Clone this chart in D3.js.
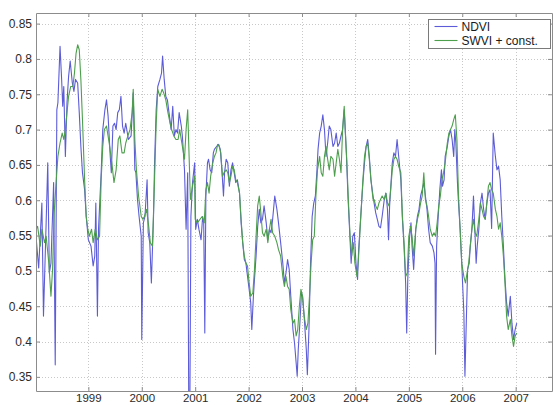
<!DOCTYPE html>
<html><head><meta charset="utf-8">
<script src="https://cdn.jsdelivr.net/npm/d3@7"></script>
<style>html,body{margin:0;padding:0;background:#fff;}svg{display:block;}</style>
</head><body>
<svg id="chart" width="553" height="405"></svg>
<script>
// ---- data (decimal year, value) ----
const yearTicks = [1999, 2000, 2001, 2002, 2003, 2004, 2005, 2006, 2007];
const valueTicks = [0.35, 0.4, 0.45, 0.5, 0.55, 0.6, 0.65, 0.7, 0.75, 0.8, 0.85];
const seriesNames = ["NDVI", "SWVI + const."];

const ndviT = [1998.02,1998.07,1998.13,1998.16,1998.21,1998.24,1998.27,1998.30,1998.35,1998.38,1998.41,1998.43,1998.47,1998.50,1998.52,1998.54,1998.57,1998.60,1998.63,1998.66,1998.70,1998.73,1998.76,1998.80,1998.83,1998.86,1998.89,1998.93,1998.96,1999.00,1999.05,1999.09,1999.12,1999.14,1999.17,1999.19,1999.24,1999.27,1999.31,1999.34,1999.37,1999.41,1999.43,1999.46,1999.49,1999.52,1999.55,1999.58,1999.61,1999.64,1999.67,1999.70,1999.75,1999.80,1999.84,1999.87,1999.89,1999.92,1999.95,1999.99,2000.00,2000.03,2000.06,2000.10,2000.12,2000.15,2000.18,2000.22,2000.24,2000.27,2000.30,2000.34,2000.37,2000.39,2000.42,2000.45,2000.48,2000.51,2000.55,2000.58,2000.61,2000.64,2000.67,2000.70,2000.74,2000.76,2000.80,2000.83,2000.86,2000.88,2000.90,2000.92,2000.95,2000.99,2001.01,2001.04,2001.07,
2001.11,2001.14,2001.16,2001.18,2001.20,2001.23,2001.25,2001.28,2001.31,2001.34,2001.36,2001.40,2001.44,2001.47,2001.50,2001.53,2001.55,2001.58,2001.61,2001.64,2001.67,2001.70,2001.73,2001.76,2001.79,2001.83,2001.86,2001.89,2001.92,2001.95,2001.98,2002.01,2002.04,2002.06,2002.09,2002.11,2002.14,2002.17,2002.20,2002.23,2002.26,2002.29,2002.33,2002.36,2002.39,2002.42,2002.45,2002.49,2002.53,2002.56,2002.60,2002.64,2002.67,2002.70,2002.73,2002.76,2002.79,2002.83,2002.86,2002.89,2002.91,2002.93,2002.96,2002.99,2003.01,2003.04,2003.08,2003.10,2003.13,2003.16,2003.19,2003.22,2003.25,2003.28,2003.30,2003.33,2003.36,2003.39,2003.42,2003.45,2003.48,2003.51,2003.54,2003.58,2003.61,2003.64,2003.67,2003.70,2003.73,2003.76,2003.79,2003.83,2003.86,2003.89,2003.92,2003.95,2003.98,2004.01,2004.04,2004.06,2004.10,2004.14,2004.17,2004.20,2004.23,2004.26,2004.29,2004.33,
2004.35,2004.38,2004.41,2004.44,2004.47,2004.50,2004.54,2004.57,2004.60,2004.62,2004.64,2004.67,2004.69,2004.72,2004.75,2004.78,2004.81,2004.85,2004.88,2004.91,2004.94,2004.96,2004.98,2005.01,2005.04,2005.06,2005.09,2005.13,2005.16,2005.19,2005.22,2005.25,2005.28,2005.31,2005.34,2005.37,2005.40,2005.44,2005.47,2005.49,2005.50,2005.52,2005.55,2005.58,2005.61,2005.63,2005.66,2005.68,2005.72,2005.75,2005.78,2005.81,2005.84,2005.86,2005.88,2005.91,2005.93,2005.96,2005.99,2006.03,2006.05,2006.08,2006.10,2006.13,2006.15,2006.18,2006.21,2006.23,2006.26,2006.28,2006.31,2006.34,2006.37,2006.40,2006.43,2006.46,2006.49,2006.52,2006.55,2006.58,2006.62,2006.65,2006.68,2006.71,2006.74,2006.77,2006.80,2006.83,2006.86,2006.90,2006.93,2006.96,2006.99,2007.02];
const ndviV = [0.549,0.504,0.596,0.436,0.568,0.653,0.497,0.511,0.625,0.367,0.728,0.738,0.818,0.771,0.733,0.761,0.662,0.738,0.775,0.797,0.766,0.754,0.771,0.766,0.724,0.676,0.639,0.615,0.577,0.544,0.535,0.507,0.521,0.596,0.436,0.559,0.639,0.700,0.728,0.742,0.719,0.662,0.639,0.705,0.709,0.700,0.724,0.728,0.747,0.705,0.695,0.709,0.686,0.691,0.752,0.643,0.639,0.601,0.577,0.549,0.403,0.568,0.577,0.629,0.554,0.540,0.483,0.577,0.653,0.728,0.761,0.771,0.780,0.804,0.771,0.747,0.742,0.724,0.700,0.733,0.691,0.700,0.695,0.724,0.705,0.691,0.643,0.559,0.639,0.300,0.300,0.577,0.625,0.653,0.559,0.573,0.559,
0.544,0.577,0.568,0.412,0.606,0.653,0.658,0.643,0.639,0.667,0.672,0.676,0.679,0.672,0.643,0.606,0.639,0.658,0.653,0.620,0.643,0.653,0.639,0.625,0.629,0.610,0.568,0.540,0.516,0.511,0.492,0.474,0.455,0.417,0.464,0.488,0.521,0.563,0.587,0.568,0.573,0.592,0.568,0.544,0.559,0.554,0.573,0.606,0.587,0.568,0.540,0.511,0.483,0.497,0.516,0.502,0.464,0.417,0.398,0.370,0.351,0.389,0.426,0.469,0.464,0.436,0.389,0.353,0.417,0.511,0.577,0.596,0.606,0.643,0.672,0.695,0.705,0.721,0.700,0.662,0.681,0.705,0.700,0.676,0.681,0.695,0.676,0.681,0.691,0.700,0.728,0.667,0.606,0.559,0.511,0.549,0.554,0.511,0.488,0.530,0.577,0.625,0.653,0.676,0.686,0.662,0.629,0.606,
0.596,0.582,0.573,0.563,0.561,0.577,0.601,0.610,0.587,0.544,0.592,0.629,0.653,0.667,0.662,0.686,0.662,0.629,0.573,0.535,0.483,0.412,0.488,0.544,0.568,0.535,0.502,0.559,0.577,0.587,0.606,0.615,0.625,0.606,0.587,0.559,0.540,0.535,0.526,0.511,0.382,0.535,0.577,0.615,0.643,0.620,0.629,0.662,0.676,0.691,0.700,0.686,0.662,0.700,0.681,0.625,0.596,0.559,0.511,0.441,0.351,0.441,0.502,0.511,0.535,0.559,0.606,0.568,0.511,0.535,0.559,0.596,0.610,0.587,0.573,0.596,0.610,0.615,0.560,0.695,0.662,0.643,0.648,0.629,0.577,0.535,0.488,0.455,0.436,0.464,0.426,0.403,0.417,0.426];

const swviT = [1998.02,1998.05,1998.10,1998.13,1998.18,1998.21,1998.26,1998.30,1998.33,1998.36,1998.40,1998.43,1998.47,1998.51,1998.54,1998.57,1998.60,1998.63,1998.67,1998.71,1998.74,1998.77,1998.80,1998.83,1998.86,1998.89,1998.93,1998.96,1998.99,1999.02,1999.06,1999.09,1999.13,1999.17,1999.21,1999.24,1999.27,1999.30,1999.34,1999.39,1999.44,1999.48,1999.52,1999.56,1999.59,1999.63,1999.67,1999.70,1999.74,1999.78,1999.82,1999.84,1999.87,1999.90,1999.94,1999.99,2000.02,2000.05,2000.09,2000.13,2000.16,2000.20,2000.23,2000.27,2000.30,2000.34,2000.38,2000.41,2000.45,2000.49,2000.53,2000.56,2000.60,2000.64,2000.68,2000.71,2000.75,2000.80,2000.83,2000.86,2000.89,2000.91,2000.95,2000.99,2001.00,2001.04,
2001.13,2001.17,2001.20,2001.23,2001.26,2001.29,2001.33,2001.36,2001.39,2001.42,2001.45,2001.48,2001.51,2001.54,2001.58,2001.61,2001.64,2001.67,2001.70,2001.73,2001.76,2001.79,2001.83,2001.86,2001.89,2001.92,2001.95,2001.98,2002.01,2002.04,2002.08,2002.11,2002.14,2002.17,2002.20,2002.23,2002.26,2002.29,2002.33,2002.36,2002.39,2002.42,2002.45,2002.49,2002.53,2002.56,2002.60,2002.64,2002.67,2002.70,2002.73,2002.76,2002.79,2002.83,2002.86,2002.89,2002.92,2002.95,2002.98,2003.01,2003.04,2003.08,2003.11,2003.14,2003.17,2003.20,2003.23,2003.26,2003.29,2003.33,2003.36,2003.39,2003.42,2003.45,2003.48,2003.51,2003.54,2003.58,2003.61,2003.64,2003.67,2003.70,2003.73,2003.76,2003.79,2003.81,2003.84,2003.87,2003.90,2003.93,2003.96,2003.99,2004.03,2004.06,2004.10,2004.14,2004.17,2004.20,2004.23,2004.26,2004.29,2004.33,
2004.35,2004.38,2004.41,2004.44,2004.47,2004.50,2004.54,2004.57,2004.60,2004.63,2004.66,2004.69,2004.72,2004.75,2004.78,2004.81,2004.85,2004.88,2004.91,2004.94,2004.97,2005.00,2005.03,2005.06,2005.09,2005.13,2005.16,2005.19,2005.22,2005.25,2005.28,2005.31,2005.34,2005.37,2005.40,2005.44,2005.47,2005.50,2005.53,2005.56,2005.59,2005.62,2005.65,2005.68,2005.72,2005.75,2005.78,2005.81,2005.84,2005.87,2005.90,2005.93,2005.96,2005.99,2006.03,2006.06,2006.09,2006.12,2006.15,2006.18,2006.21,2006.24,2006.27,2006.31,2006.34,2006.37,2006.40,2006.43,2006.46,2006.49,2006.52,2006.55,2006.58,2006.62,2006.65,2006.68,2006.71,2006.74,2006.77,2006.80,2006.83,2006.86,2006.90,2006.93,2006.96,2006.99,2007.02];
const swviV = [0.559,0.563,0.535,0.559,0.540,0.549,0.511,0.464,0.502,0.582,0.629,0.662,0.681,0.695,0.686,0.700,0.724,0.747,0.761,0.761,0.780,0.808,0.820,0.813,0.771,0.714,0.629,0.577,0.559,0.549,0.559,0.540,0.559,0.544,0.549,0.629,0.676,0.700,0.705,0.681,0.653,0.625,0.643,0.686,0.691,0.667,0.667,0.681,0.691,0.700,0.724,0.757,0.686,0.643,0.606,0.577,0.573,0.577,0.587,0.563,0.540,0.535,0.606,0.709,0.757,0.747,0.757,0.752,0.742,0.724,0.709,0.700,0.691,0.686,0.686,0.700,0.681,0.658,0.700,0.728,0.653,0.601,0.620,0.634,0.573,0.568,
0.577,0.568,0.615,0.625,0.610,0.634,0.653,0.662,0.667,0.679,0.676,0.667,0.634,0.639,0.643,0.639,0.625,0.634,0.648,0.643,0.629,0.625,0.610,0.573,0.540,0.521,0.511,0.507,0.483,0.464,0.469,0.502,0.549,0.592,0.606,0.582,0.554,0.549,0.559,0.540,0.559,0.573,0.554,0.549,0.540,0.530,0.521,0.492,0.478,0.492,0.478,0.474,0.445,0.426,0.431,0.408,0.417,0.450,0.474,0.464,0.436,0.417,0.426,0.464,0.511,0.544,0.549,0.606,0.643,0.662,0.639,0.634,0.662,0.676,0.658,0.643,0.662,0.658,0.634,0.653,0.672,0.658,0.639,0.700,0.733,0.700,0.653,0.596,0.549,0.521,0.540,0.511,0.492,0.521,0.577,0.629,0.662,0.676,0.681,0.658,0.629,0.601,
0.601,0.592,0.587,0.596,0.601,0.606,0.601,0.610,0.596,0.592,0.615,0.643,0.658,0.662,0.658,0.648,0.639,0.577,0.540,0.492,0.497,0.549,0.563,0.549,0.521,0.559,0.573,0.582,0.596,0.606,0.639,0.601,0.592,0.577,0.559,0.549,0.554,0.549,0.568,0.592,0.606,0.629,0.639,0.653,0.681,0.695,0.700,0.705,0.714,0.721,0.686,0.606,0.559,0.511,0.492,0.483,0.497,0.511,0.535,0.559,0.573,0.554,0.549,0.573,0.596,0.587,0.577,0.573,0.596,0.620,0.625,0.615,0.610,0.587,0.577,0.559,0.568,0.549,0.521,0.483,0.436,0.417,0.431,0.408,0.393,0.408,0.412];

// ---- layout ----
const W = 553, H = 405;
const m = {left: 36, top: 13, right: 1, bottom: 14};
const pw = W - m.left - m.right, ph = H - m.top - m.bottom;

const svg = d3.select("#chart");
const x = d3.scaleLinear().domain([1998.02, 2007.68]).range([m.left, m.left + pw]);
const y = d3.scaleLinear().domain([0.33, 0.865]).range([m.top + ph, m.top]);

const gridColor = "#c8c8c8";
const axisColor = "#8c8c8c";
const font = "Liberation Sans, Arial, sans-serif";

// grid
const grid = svg.append("g");
grid.selectAll("line.gx").data(yearTicks).enter().append("line")
  .attr("x1", d => Math.round(x(d)) + 0.5).attr("x2", d => Math.round(x(d)) + 0.5).attr("y1", m.top).attr("y2", m.top + ph)
  .attr("stroke", gridColor).attr("stroke-dasharray", "1,2");
grid.selectAll("line.gy").data(valueTicks).enter().append("line")
  .attr("y1", d => Math.round(y(d)) + 0.5).attr("y2", d => Math.round(y(d)) + 0.5).attr("x1", m.left).attr("x2", m.left + pw)
  .attr("stroke", gridColor).attr("stroke-dasharray", "1,2");

// clip
svg.append("clipPath").attr("id", "clip").append("rect")
  .attr("x", m.left).attr("y", m.top).attr("width", pw).attr("height", ph);

const line = d3.line().x(d => x(d[0])).y(d => y(d[1]));
const ndvi = ndviT.map((t, i) => [t, ndviV[i]]);
const swvi = swviT.map((t, i) => [t, swviV[i]]);
const colors = ["#5c5cd8", "#4d9f4d"];

const plot = svg.append("g").attr("clip-path", "url(#clip)");
plot.append("path").datum(ndvi).attr("d", line).attr("fill", "none")
  .attr("stroke", colors[0]).attr("stroke-width", 1.1).attr("stroke-linejoin", "round");
plot.append("path").datum(swvi).attr("d", line).attr("fill", "none")
  .attr("stroke", colors[1]).attr("stroke-width", 1.1).attr("stroke-linejoin", "round");

// axes (box with inward ticks)
const axB = d3.axisBottom(x).tickValues(yearTicks).tickFormat(d3.format("d")).tickSizeInner(-4).tickSizeOuter(0).tickPadding(3);
const axT = d3.axisTop(x).tickValues(yearTicks).tickFormat("").tickSizeInner(-4).tickSizeOuter(0);
const axL = d3.axisLeft(y).tickValues(valueTicks).tickFormat(d => String(+d.toFixed(2))).tickSizeInner(-4).tickSizeOuter(0).tickPadding(4);
const axR = d3.axisRight(y).tickValues(valueTicks).tickFormat("").tickSizeInner(-4).tickSizeOuter(0);

function style(g, size) {
  g.selectAll("path.domain").attr("stroke", axisColor);
  g.selectAll(".tick line").attr("stroke", axisColor);
  g.selectAll("text").attr("fill", "#2a2a2a").style("font-family", font).style("font-size", size || "12px");
}
svg.append("g").attr("transform", `translate(0,${m.top + ph})`).call(axB).call(style, "11.5px");
svg.append("g").attr("transform", `translate(0,${m.top})`).call(axT).call(style);
svg.append("g").attr("transform", `translate(${m.left},0)`).call(axL).call(style, "12px");
svg.append("g").attr("transform", `translate(${m.left + pw},0)`).call(axR).call(style);

// legend
const lg = svg.append("g").attr("transform", "translate(428.5,19.5)");
lg.append("rect").attr("width", 122).attr("height", 29).attr("fill", "#fff").attr("stroke", "#7a7a7a");
seriesNames.forEach((name, i) => {
  const yy = 7 + i * 14;
  lg.append("line").attr("x1", 6).attr("x2", 29).attr("y1", yy).attr("y2", yy)
    .attr("stroke", colors[i]).attr("stroke-width", 1.1);
  lg.append("text").attr("x", 33).attr("y", yy + 4).text(name)
    .attr("fill", "#1a1a1a").style("font-family", font).style("font-size", "12px");
});
</script>
</body></html>
